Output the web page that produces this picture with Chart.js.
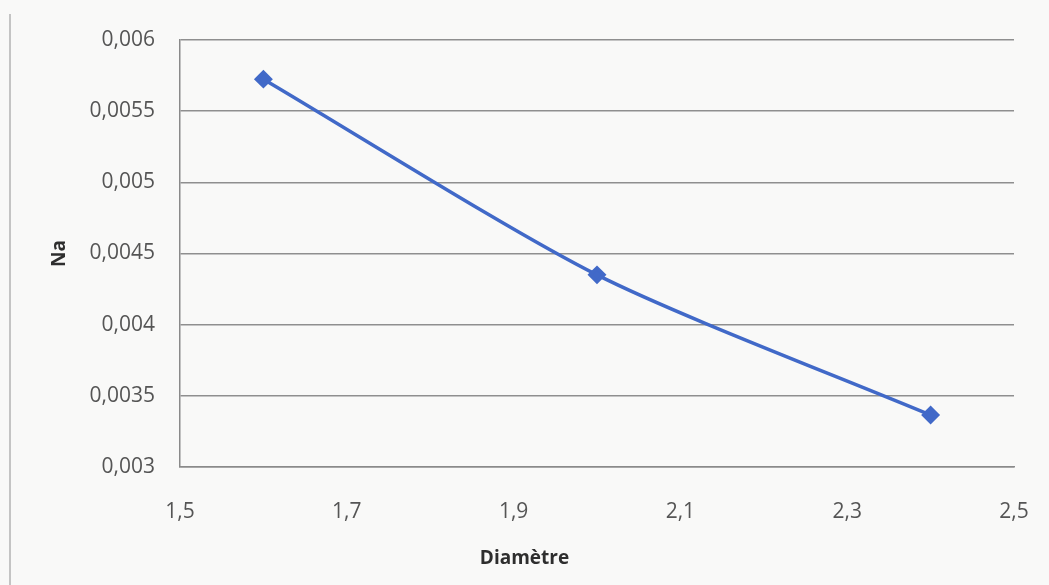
<!DOCTYPE html>
<html>
<head>
<meta charset="utf-8">
<script src="https://cdn.jsdelivr.net/npm/chart.js@4/dist/chart.umd.min.js"></script>
<style>
  html, body { margin: 0; padding: 0; background: #f9f9f8; }
  #wrap { position: relative; width: 1049px; height: 585px; }
  #edge { position: absolute; left: 9px; top: 14px; width: 2px; height: 571px; background: #c4c4c4; }
  canvas { position: absolute; left: 0; top: 0; }
</style>
</head>
<body>
<div id="wrap">
  <div id="edge"></div>
  <canvas id="c" width="1049" height="585"></canvas>
</div>
<script>
const diametre = [1.6, 2.0, 2.4];
const naValues = [0.005725, 0.00435, 0.003365];
const xTickValues = [1.5, 1.7, 1.9, 2.1, 2.3, 2.5];
const xTickLabels = ['1,5', '1,7', '1,9', '2,1', '2,3', '2,5'];
const yTickValues = [0.003, 0.0035, 0.004, 0.0045, 0.005, 0.0055, 0.006];
const yTickLabels = ['0,003', '0,0035', '0,004', '0,0045', '0,005', '0,0055', '0,006'];
const xTitle = 'Diamètre';
const yTitle = 'Na';

const points = diametre.map((x, i) => ({ x: x, y: naValues[i] }));
const fontFamily = '"Open Sans", Lato, sans-serif';
const tickFont = { family: fontFamily, size: 21 };
const titleFont = { family: fontFamily, size: 19, weight: 'bold' };

// Excel centres the horizontal axis title on the whole chart, not on the plot area
const xTitlePlugin = {
  id: 'xTitleCentered',
  afterDraw(chart) {
    const ctx = chart.ctx;
    const xs = chart.scales.x;
    ctx.save();
    ctx.font = 'bold ' + titleFont.size + 'px ' + fontFamily;
    ctx.fillStyle = '#2e2e2e';
    ctx.textAlign = 'center';
    ctx.textBaseline = 'middle';
    ctx.fillText(xTitle, chart.width / 2, xs.bottom - 26);
    ctx.restore();
  }
};

new Chart(document.getElementById('c'), {
  type: 'line',
  data: {
    datasets: [{
      data: points,
      borderColor: '#4169c8',
      backgroundColor: '#4169c8',
      borderWidth: 3.5,
      pointStyle: 'rectRot',
      pointRadius: 7,
      pointHoverRadius: 7,
      tension: 0.25,
      fill: false
    }]
  },
  plugins: [xTitlePlugin],
  options: {
    responsive: false,
    animation: false,
    layout: { padding: { top: 40, right: 35, left: 0, bottom: 0 } },
    plugins: { legend: { display: false }, tooltip: { enabled: false } },
    scales: {
      x: {
        type: 'linear',
        min: 1.5, max: 2.5,
        afterBuildTicks: s => { s.ticks = xTickValues.map(v => ({ value: v })); },
        afterFit: s => { s.height = 118; s.paddingLeft = 0; s.paddingRight = 0; },
        grid: { display: false, drawTicks: false },
        border: { display: true, color: '#8a8a8a', width: 1.5 },
        ticks: {
          color: '#555555', font: tickFont, padding: 32, maxRotation: 0,
          callback: (v, i) => xTickLabels[i]
        },
        title: { display: false }
      },
      y: {
        type: 'linear',
        min: 0.003, max: 0.006,
        afterBuildTicks: s => { s.ticks = yTickValues.map(v => ({ value: v })); },
        afterFit: s => { s.width = 180; },
        grid: { color: '#8f8f8f', lineWidth: 1.5, drawTicks: false },
        border: { display: true, color: '#8a8a8a', width: 1.5 },
        ticks: {
          color: '#555555', font: tickFont, padding: 25,
          callback: (v, i) => yTickLabels[i]
        },
        title: { display: true, text: yTitle, color: '#2e2e2e', font: titleFont, padding: { top: 48, bottom: 0 } }
      }
    }
  }
});
</script>
</body>
</html>
